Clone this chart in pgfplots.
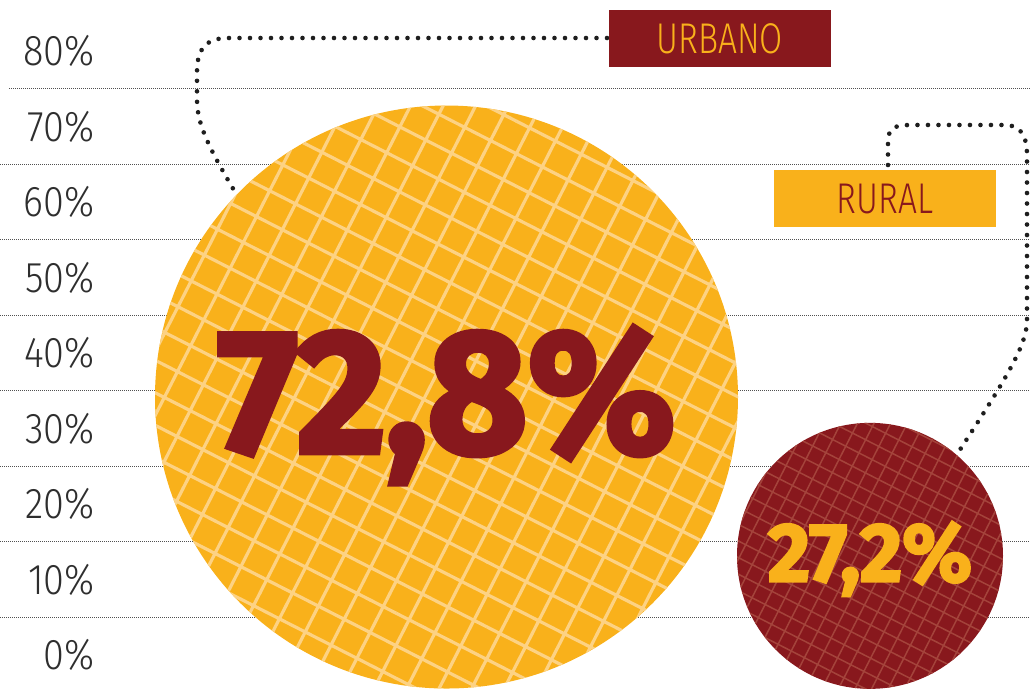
\documentclass[border=0pt]{standalone}
\usepackage{pgfplots}
\pgfplotsset{compat=1.18}
\usetikzlibrary{patterns.meta}
\usepackage{fontspec}
\setmainfont{Fira Sans Light}
\newfontfamily\tickfont{Fira Sans Light}[FakeStretch=0.88]
\newfontfamily\condfont{Fira Sans Light}[FakeStretch=0.78]
\newfontfamily\heavyfont{Fira Sans}[FakeStretch=0.98, BoldFeatures={FakeBold=3}]

\definecolor{cOrange}{HTML}{F9B11B}
\definecolor{cRed}{HTML}{88181D}
\definecolor{cHatchO}{HTML}{FDD283}
\definecolor{cHatchR}{HTML}{A4433B}
\definecolor{cGrid}{HTML}{505050}
\definecolor{cText}{HTML}{2E2E2E}
\definecolor{cDot}{HTML}{1E1E1E}

\pgfdeclarepattern{
  name=gridBig, type=uncolored,
  bottom left={\pgfpoint{-0.1pt}{-0.1pt}},
  top right={\pgfpoint{14.6pt}{14.6pt}},
  tile size={\pgfpoint{14.5pt}{14.5pt}},
  tile transformation={\pgftransformrotate{-27}},
  code={
    \pgfsetlinewidth{1.6pt}
    \pgfpathmoveto{\pgfpoint{-0.1pt}{7.25pt}}\pgfpathlineto{\pgfpoint{14.6pt}{7.25pt}}
    \pgfpathmoveto{\pgfpoint{7.25pt}{-0.1pt}}\pgfpathlineto{\pgfpoint{7.25pt}{14.6pt}}
    \pgfusepath{stroke}
  }
}
\pgfdeclarepattern{
  name=gridSmall, type=uncolored,
  bottom left={\pgfpoint{-0.1pt}{-0.1pt}},
  top right={\pgfpoint{7.5pt}{7.5pt}},
  tile size={\pgfpoint{7.4pt}{7.4pt}},
  tile transformation={\pgftransformrotate{-27}},
  code={
    \pgfsetlinewidth{0.75pt}
    \pgfpathmoveto{\pgfpoint{-0.1pt}{3.7pt}}\pgfpathlineto{\pgfpoint{7.5pt}{3.7pt}}
    \pgfpathmoveto{\pgfpoint{3.7pt}{-0.1pt}}\pgfpathlineto{\pgfpoint{3.7pt}{7.5pt}}
    \pgfusepath{stroke}
  }
}

\pgfdeclareplotmark{bubBig}{%
  \pgfpathcircle{\pgfpointorigin}{\pgfplotmarksize}%
  \pgfsetfillcolor{cOrange}\pgfusepath{fill}%
  \pgfpathcircle{\pgfpointorigin}{\pgfplotmarksize}%
  \pgfsetfillpattern{gridBig}{cHatchO}\pgfusepath{fill}%
}
\pgfdeclareplotmark{bubSmall}{%
  \pgfpathcircle{\pgfpointorigin}{\pgfplotmarksize}%
  \pgfsetfillcolor{cRed}\pgfusepath{fill}%
  \pgfpathcircle{\pgfpointorigin}{\pgfplotmarksize}%
  \pgfsetfillpattern{gridSmall}{cHatchR}\pgfusepath{fill}%
}

\begin{document}
\begin{tikzpicture}
\begin{axis}[
  name=ax,
  scale only axis, width=515pt, height=344pt,
  xmin=0, xmax=1030, ymin=-4.371, ymax=86.755,
  axis line style={draw=none},
  xtick=\empty,
  ytick={0,10,20,30,40,50,60,70,80},
  yticklabels={0\%,10\%,20\%,30\%,40\%,50\%,60\%,70\%,80\%},
  major tick length=0pt,
  yticklabel style={anchor=east, inner sep=0pt, xshift=47.5pt,
    font=\tickfont\fontsize{21.5}{22}\selectfont, text=cText},
  extra y ticks={5,15,25,35,45,55,65,75},
  extra y tick labels={},
  extra y tick style={grid=major,
    major grid style={cGrid, line width=0.5pt, dash pattern=on 0.5pt off 0.5pt,
      shorten <=4.5pt}},
]
% connector lines
\draw[cDot, line width=2.3pt, line cap=round, dash pattern=on 0pt off 5.25pt]
  (607,81.72) -- (228,81.72) .. controls (205,81.72) and (197,80.13) .. (197,77.22)
  -- (197,73.51) .. controls (197,70.20) and (210,66.89) .. (238,60.66);
\draw[cDot, line width=2.3pt, line cap=round, dash pattern=on 0pt off 5.25pt]
  (888,64.90) -- (888,67.95) .. controls (888,69.80) and (895,70.20) .. (910,70.20)
  -- (1005,70.20) .. controls (1020,70.20) and (1027,68.87) .. (1027,66.23)
  -- (1027,44.37) .. controls (1027,41.06) and (1008,36.95) .. (952,25.56);
% bubbles
\addplot[only marks, mark=bubBig, mark size=145.75pt,
  nodes near coords, point meta=explicit symbolic,
  nodes near coords style={anchor=center, inner sep=0pt, yshift=-4pt,
    font=\heavyfont\bfseries\fontsize{88}{88}\selectfont, text=cRed}]
  coordinates {(446.5,34.17) [72,8\%]};
\addplot[only marks, mark=bubSmall, mark size=66.5pt,
  nodes near coords, point meta=explicit symbolic,
  nodes near coords style={anchor=center, inner sep=0pt, yshift=-1.5pt,
    font=\heavyfont\bfseries\fontsize{41.5}{42}\selectfont, text=cOrange}]
  coordinates {(870,13.13) [27,2\%]};
% labels
\node[fill=cRed, text=cOrange, minimum width=111pt, minimum height=28.5pt,
  inner sep=0pt, font=\condfont\fontsize{21.5}{22}\selectfont] at (720,81.66) {URBANO};
\node[fill=cOrange, text=cRed, minimum width=111pt, minimum height=28.5pt,
  inner sep=0pt, font=\condfont\fontsize{21.5}{22}\selectfont] at (885,60.46) {RURAL};
\end{axis}
\pgfresetboundingbox
\path[use as bounding box] (ax.south west) rectangle (ax.north east);
\end{tikzpicture}
\end{document}
